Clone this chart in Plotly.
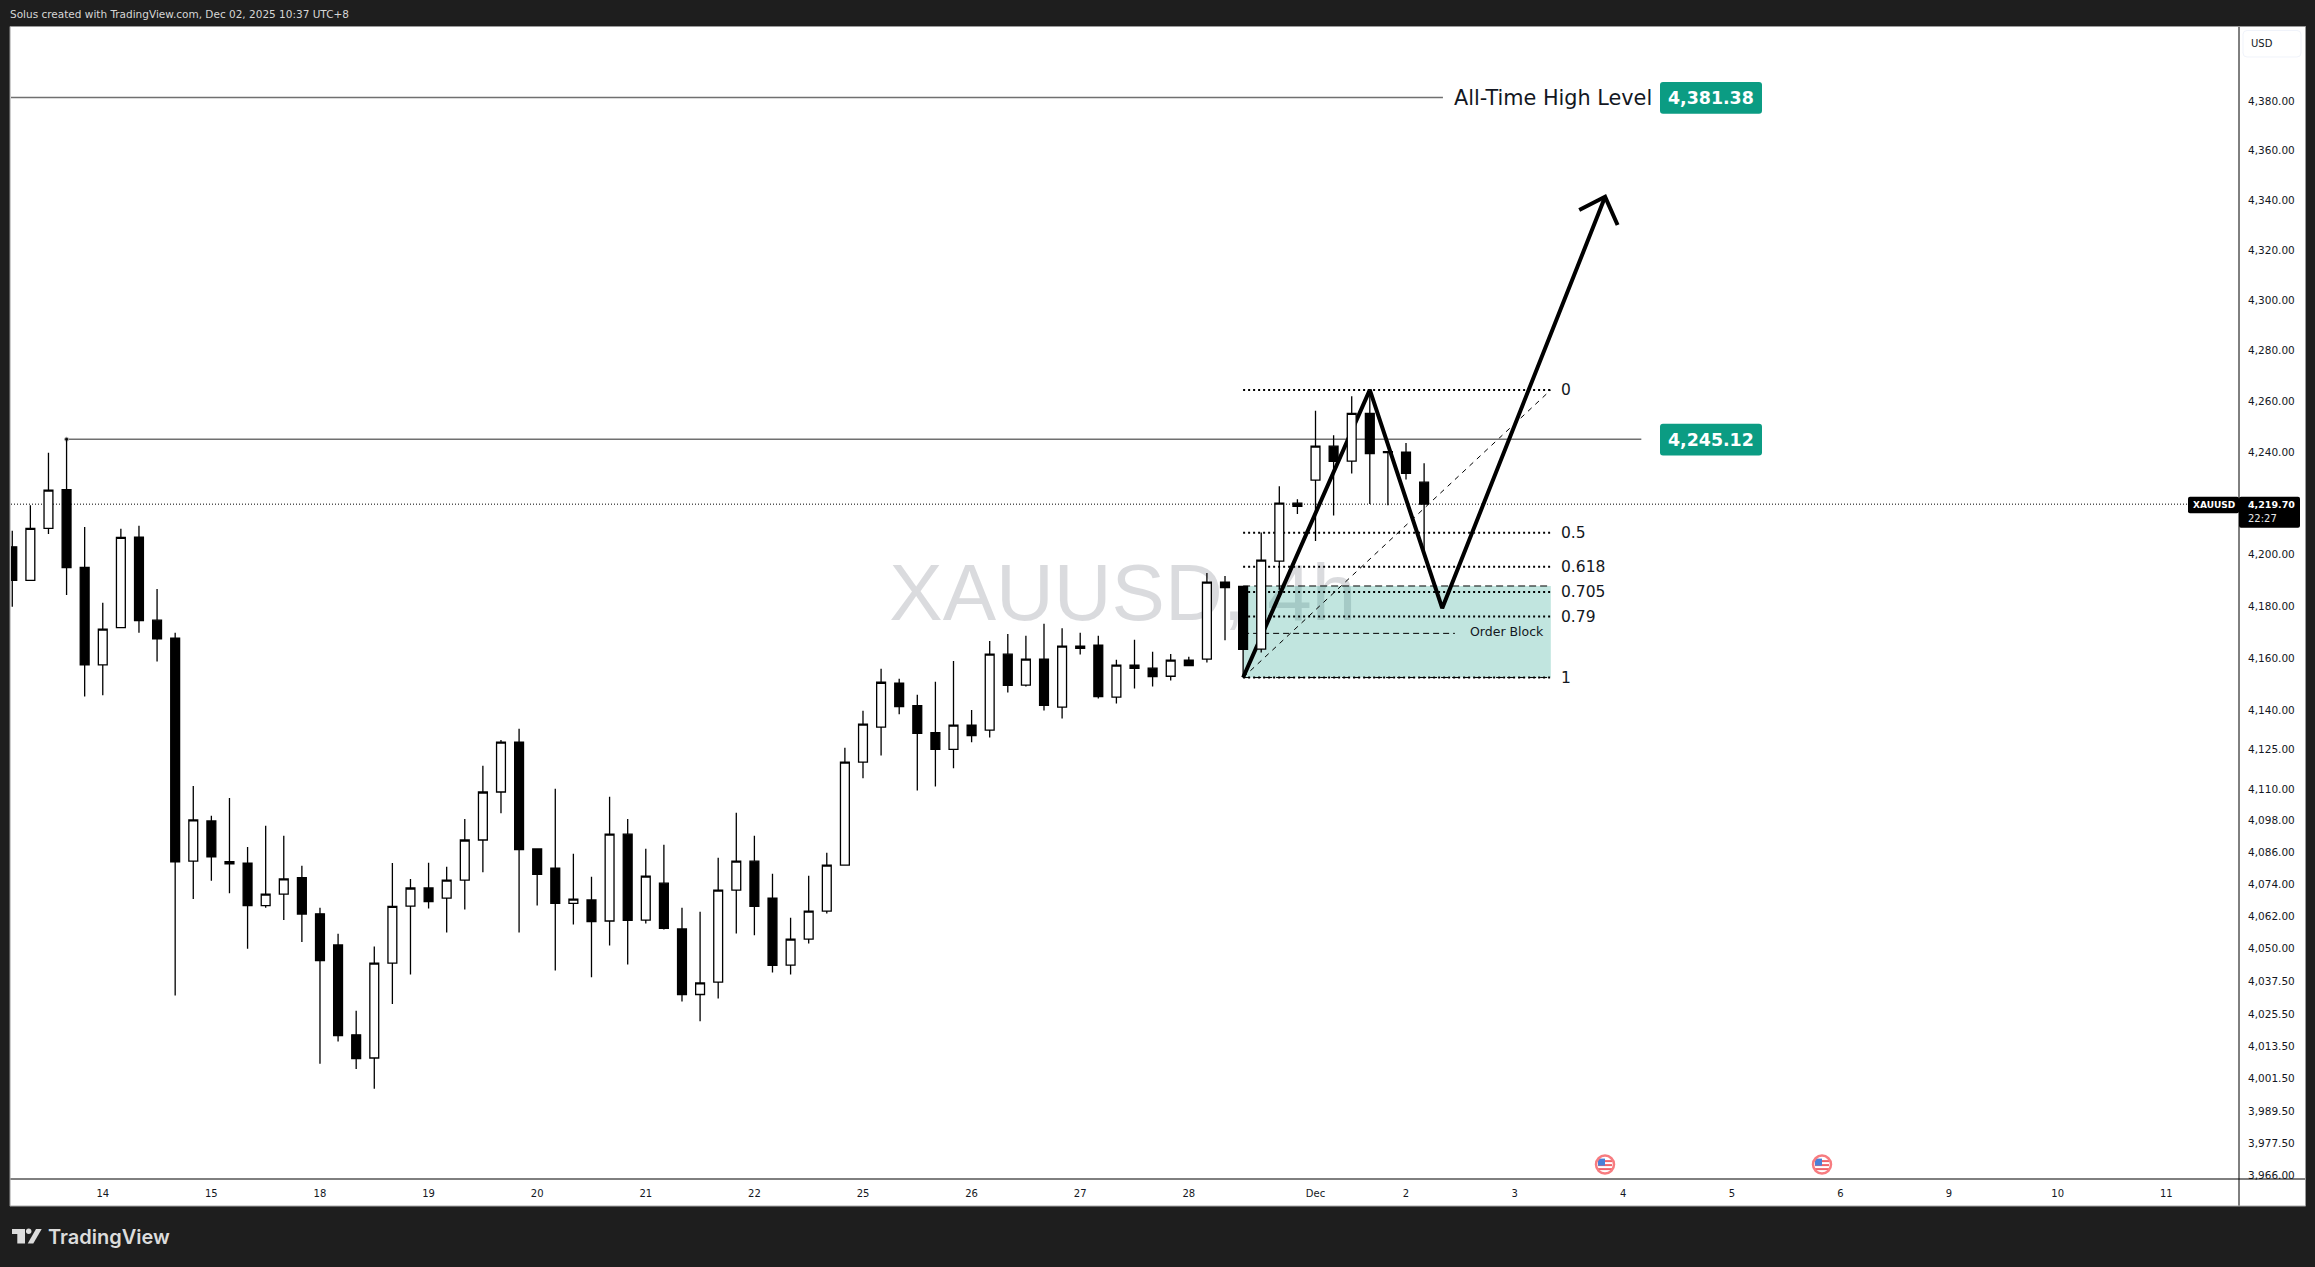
import math
import plotly.graph_objects as go

# ---------- data ----------
bar_index = list(range(79))
open_ = [4203.1,4190.1,4210.3,4225.4,4195.1,4157.5,4171.8,4206.9,4174.7,4167.8,4082.7,4097.9,4082.5,4082.0,4066.0,4070.3,4076.5,4062.9,4051.2,4017.7,
         4009.1,4044.4,4065.8,4072.6,4068.8,4075.6,4090.7,4108.9,4127.9,4087.3,4080.1,4066.8,4068.1,4060.2,4092.9,4060.5,4074.4,4057.2,4032.7,4037.3,
         4071.8,4082.7,4068.8,4043.7,4053.4,4063.9,4081.2,4120.3,4133.6,4150.5,4141.8,4131.5,4125.1,4134.4,4132.5,4161.6,4149.7,4159.7,4141.3,4164.7,
         4165.1,4145.1,4157.4,4156.2,4153.1,4159.3,4159.7,4189.4,4187.7,4163.5,4197.5,4220.1,4229.1,4242.4,4236.5,4255.3,4240.2,4240.0,4228.3]
high = [4209.3,4219.3,4239.8,4245.12,4210.8,4181.4,4210.1,4211.3,4186.7,4169.8,4111.2,4099.9,4106.6,4088.1,4096.1,4092.3,4081.0,4065.2,4055.4,4026.6,
        4050.6,4082.0,4076.0,4082.1,4080.6,4098.7,4118.9,4128.7,4133.0,4087.3,4110.1,4085.5,4076.8,4107.1,4098.7,4087.4,4088.9,4065.2,4063.7,4084.0,
        4101.0,4092.3,4078.0,4061.4,4077.2,4085.9,4125.7,4139.9,4156.0,4152.1,4146.0,4151.0,4159.0,4140.2,4166.7,4169.4,4168.7,4173.3,4171.6,4169.8,
        4168.7,4159.4,4167.1,4162.5,4161.7,4160.6,4192.9,4191.8,4188.0,4208.7,4226.7,4221.6,4256.3,4246.7,4262.0,4264.8,4240.2,4243.6,4235.7]
low = [4179.9,4190.1,4208.1,4184.4,4145.3,4145.8,4171.8,4169.8,4158.8,4032.3,4068.5,4075.3,4070.6,4049.8,4065.2,4060.6,4052.3,4007.0,4015.2,4005.0,
       3997.7,4029.2,4040.2,4064.9,4055.9,4064.5,4078.5,4100.8,4055.9,4066.0,4041.7,4058.9,4039.1,4051.0,4043.9,4059.3,4057.0,4030.1,4022.7,4031.2,
       4055.5,4054.8,4040.9,4040.2,4051.8,4063.0,4081.2,4114.1,4122.8,4138.5,4109.5,4111.0,4117.9,4127.8,4129.7,4146.9,4149.2,4140.0,4136.9,4161.5,
       4144.6,4142.7,4148.4,4149.2,4151.5,4157.2,4158.4,4166.9,4152.6,4162.2,4186.4,4215.9,4205.4,4215.3,4231.7,4219.8,4219.3,4229.3,4201.9]
close = [4190.1,4210.3,4225.2,4195.0,4157.5,4171.2,4206.8,4174.5,4167.5,4082.5,4098.3,4084.3,4081.7,4066.0,4070.3,4076.0,4062.8,4045.4,4017.4,4008.9,
         4044.4,4065.7,4072.6,4067.5,4075.6,4090.7,4108.9,4127.9,4087.1,4077.7,4066.8,4068.4,4060.0,4092.9,4060.4,4077.1,4057.4,4032.7,4037.0,4071.8,
         4082.7,4065.7,4043.6,4053.4,4063.9,4081.2,4120.3,4134.8,4150.8,4141.5,4131.2,4125.1,4134.4,4130.4,4161.6,4149.6,4159.7,4141.9,4164.7,4163.8,
         4145.3,4157.4,4156.1,4153.0,4159.3,4157.2,4189.4,4187.3,4163.4,4197.9,4220.1,4218.8,4242.4,4236.4,4255.3,4239.5,4239.9,4231.7,4219.7]

price_ticks = [4380,4360,4340,4320,4300,4280,4260,4240,4200,4180,4160,4140,4125,4110,4098,4086,4074,4062,4050,4037.5,4025.5,4013.5,4001.5,3989.5,3977.5,3966]
time_tick_pos = [5,11,17,23,29,35,41,47,53,59,65,72,77,83,89,95,101,107,113,119]
time_tick_txt = ["14","15","18","19","20","21","22","25","26","27","28","Dec","2","3","4","5","6","9","10","11"]

ath_price = 4381.38
resistance_price = 4245.12
last_price = 4219.70
fib_high = 4264.5
fib_low = 4152.6
fib_levels = [0, 0.5, 0.618, 0.705, 0.79, 1]
fib_labels = ["0", "0.5", "0.618", "0.705", "0.79", "1"]
fib_x = [68, 85]
zone_top = 4187.9
block_mid = 4169.6
zig_x = [68, 75, 79, 88]
zig_y = [4152.6, 4264.5, 4179.3, 4341.3]
head_x = [86.57, 88, 88.69]
head_y = [4336.0, 4341.3, 4330.0]

# ---------- geometry of the page ----------
W, H = 2315, 1267
PL, PR, PT, PB = 11, 2239, 27, 1179.4
DARK = "#1e1e1e"
TXT = "#131722"
FONT = "DejaVu Sans"
xrange_ = [-0.07, 123.02]
yrange_ = [math.log10(3964.5), math.log10(4410.0)]

def fx(px): return (px - PL) / (PR - PL)
def fy(py): return (PB - py) / (PB - PT)

def round_box(x0, y0, x1, y1, r, fill, line=None):
    X0, X1 = fx(x0), fx(x1)
    Y0, Y1 = fy(y0), fy(y1)
    rx, ry = r / (PR - PL), r / (PB - PT)
    path = (f"M{X0+rx},{Y0} L{X1-rx},{Y0} Q{X1},{Y0} {X1},{Y0-ry} L{X1},{Y1+ry} Q{X1},{Y1} {X1-rx},{Y1} "
            f"L{X0+rx},{Y1} Q{X0},{Y1} {X0},{Y1+ry} L{X0},{Y0-ry} Q{X0},{Y0} {X0+rx},{Y0} Z")
    return dict(type="path", path=path, xref="paper", yref="paper", fillcolor=fill,
                line=dict(color=line or fill, width=1 if line else 0), layer="above")

def ptext(px, py, text, size, color=TXT, anchor="left", family=FONT, weight=None):
    f = dict(family=family, size=size, color=color)
    if weight: f["weight"] = weight
    return dict(x=fx(px), y=fy(py), xref="paper", yref="paper", text=text, showarrow=False,
                xanchor=anchor, yanchor="middle", font=f)

def fib_price(level): return fib_high - level * (fib_high - fib_low)

fig = go.Figure()

# watermark + drawings sit on the lower subplot, candles on the overlaid one
fig.add_trace(go.Scatter(x=[61.35], y=[4182.5], mode="text", text=["XAUUSD, 4h"], textposition="middle center",
                         textfont=dict(family="Liberation Sans", size=80, color="rgba(120,123,134,0.27)")))
fig.add_trace(go.Scatter(x=[fib_x[0], fib_x[1], fib_x[1], fib_x[0], fib_x[0]],
                         y=[zone_top, zone_top, fib_low, fib_low, zone_top], mode="none", fill="toself",
                         fillcolor="rgba(8,153,129,0.25)"))
for lv in fib_levels:
    fig.add_trace(go.Scatter(x=fib_x, y=[fib_price(lv)] * 2, mode="lines",
                             line=dict(color="#000000", width=2, dash="2px,3px")))
for yy, dash in [(zone_top, "7px,4px"), (fib_low, "7px,4px")]:
    fig.add_trace(go.Scatter(x=fib_x, y=[yy, yy], mode="lines", line=dict(color="#000000", width=1, dash=dash)))
fig.add_trace(go.Scatter(x=[68, 79.7], y=[block_mid, block_mid], mode="lines",
                         line=dict(color="#000000", width=1, dash="6px,4px")))
fig.add_trace(go.Scatter(x=fib_x, y=[fib_low, fib_high], mode="lines",
                         line=dict(color="#000000", width=1, dash="5px,5px")))
fig.add_trace(go.Scatter(x=[-0.07, 79.04], y=[ath_price] * 2, mode="lines", line=dict(color="#707070", width=1.5)))
fig.add_trace(go.Scatter(x=[3, 90], y=[resistance_price] * 2, mode="lines", line=dict(color="#707070", width=1.5)))
fig.add_trace(go.Scatter(x=[3], y=[resistance_price], mode="markers",
                         marker=dict(color="#111111", size=4, line=dict(color="#bbbbbb", width=1))))
fig.add_trace(go.Scatter(x=[-0.07, 123.02], y=[last_price] * 2, mode="lines",
                         line=dict(color="#000000", width=1, dash="1px,2px")))
fig.add_trace(go.Scatter(x=zig_x, y=zig_y, mode="lines", line=dict(color="#000000", width=4)))
fig.add_trace(go.Scatter(x=head_x, y=head_y, mode="lines", line=dict(color="#000000", width=4)))

fig.add_trace(go.Candlestick(x=bar_index, open=open_, high=high, low=low, close=close, xaxis="x2", yaxis="y2",
                             increasing=dict(line=dict(color="#000000", width=1.3), fillcolor="#ffffff"),
                             decreasing=dict(line=dict(color="#000000", width=1.3), fillcolor="#000000"),
                             whiskerwidth=0))

shapes = [
    dict(type="rect", xref="paper", yref="paper", x0=fx(10), x1=fx(2305.5), y0=fy(26.5), y1=fy(1206.5),
         fillcolor="#ffffff", line=dict(color="#9a9a9a", width=1), layer="below"),
    dict(type="line", xref="paper", yref="paper", x0=fx(2239), x1=fx(2239), y0=fy(27), y1=fy(1206),
         line=dict(color="#000000", width=1), layer="above"),
    dict(type="line", xref="paper", yref="paper", x0=fx(10.5), x1=fx(2305), y0=fy(1179.4), y1=fy(1179.4),
         line=dict(color="#000000", width=1), layer="above"),
    round_box(1660, 82, 1762, 113.7, 3, "#0b9c83"),
    round_box(1660, 424, 1762, 455.7, 3, "#0b9c83"),
    round_box(2188, 497, 2239, 513.5, 2, "#000000"),
    round_box(2239, 497, 2300, 528, 2, "#000000"),
    round_box(2243, 30.5, 2301, 57, 4, "#ffffff", "#f0f3fa"),
]

# TradingView logo
logo = "#dcdcdc"
shapes.append(dict(type="path", xref="paper", yref="paper", fillcolor=logo, line=dict(width=0), layer="above",
                   path=f"M{fx(12)},{fy(1229.3)} L{fx(25)},{fy(1229.3)} L{fx(25)},{fy(1244)} L{fx(17.3)},{fy(1244)} "
                        f"L{fx(17.3)},{fy(1234.3)} L{fx(12)},{fy(1234.3)} Z"))
shapes.append(dict(type="path", xref="paper", yref="paper", fillcolor=logo, line=dict(width=0), layer="above",
                   path=f"M{fx(36)},{fy(1229.3)} L{fx(41.7)},{fy(1229.3)} L{fx(33.3)},{fy(1244)} L{fx(27.7)},{fy(1244)} Z"))
shapes.append(dict(type="circle", xref="paper", yref="paper", fillcolor=logo, line=dict(width=0), layer="above",
                   x0=fx(26), x1=fx(31.4), y0=fy(1229), y1=fy(1234.4)))

# event flags
for cx in (1605, 1822):
    cy = 1165
    for dy0, dy1 in [(-4.5, -2.5), (-0.5, 1.5), (3.5, 5.5)]:
        shapes.append(dict(type="rect", xref="paper", yref="paper", fillcolor="#f0636a", line=dict(width=0),
                           layer="above", x0=fx(cx - 7), x1=fx(cx + 7), y0=fy(cy + dy0), y1=fy(cy + dy1)))
    shapes.append(dict(type="rect", xref="paper", yref="paper", fillcolor="#4a80d8", line=dict(width=0),
                       layer="above", x0=fx(cx - 7), x1=fx(cx), y0=fy(cy - 6), y1=fy(cy + 1)))
    shapes.append(dict(type="circle", xref="paper", yref="paper", fillcolor="rgba(0,0,0,0)",
                       line=dict(color="#f77c80", width=2.5), layer="above",
                       x0=fx(cx - 9), x1=fx(cx + 9), y0=fy(cy - 9), y1=fy(cy + 9)))

ann = [
    ptext(8, 13.5, "Solus created with TradingView.com, Dec 02, 2025 10:37 UTC+8", 10.5, "#d6d6d6"),
    ptext(46, 1237, "TradingView", 20, "#dcdcdc", family="Inter", weight=600),
    ptext(1553, 98, "All-Time High Level", 20.8, "#131722", "center"),
    ptext(1711, 98, "4,381.38", 17.4, "#ffffff", "center", weight=700),
    ptext(1711, 440, "4,245.12", 17.4, "#ffffff", "center", weight=700),
    ptext(2213.5, 505.5, "XAUUSD", 9, "#ffffff", "center", weight=700),
    ptext(2246, 505, "4,219.70", 9.5, "#ffffff", weight=700),
    ptext(2246, 519, "22:27", 10, "#e8e8e8"),
    ptext(2249, 44, "USD", 10, TXT),
    ptext(1507, 631.5, "Order Block", 12.5, "#131722", "center"),
]
for lv, lab in zip(fib_levels, fib_labels):
    yy = PT + (yrange_[1] - math.log10(fib_price(lv))) / (yrange_[1] - yrange_[0]) * (PB - PT)
    ann.append(ptext(1558.5, yy, lab, 15.5, "#131722"))

fig.update_layout(
    width=W, height=H, autosize=False, showlegend=False,
    margin=dict(l=PL, r=W - PR, t=PT, b=H - PB, pad=0),
    paper_bgcolor=DARK, plot_bgcolor="#ffffff",
    shapes=shapes, annotations=ann,
    xaxis=dict(range=xrange_, tickmode="array", tickvals=time_tick_pos, ticktext=time_tick_txt,
               showgrid=False, zeroline=False, showline=False, ticks="", ticklabelstandoff=7,
               tickfont=dict(family=FONT, size=10, color=TXT), fixedrange=True),
    yaxis=dict(type="log", range=yrange_, side="right", tickmode="array", tickvals=price_ticks,
               ticktext=[f"{t:,.2f}" for t in price_ticks], showgrid=False, zeroline=False, showline=False,
               ticks="", ticklabelstandoff=8, tickfont=dict(family=FONT, size=10.5, color=TXT), fixedrange=True),
    xaxis2=dict(range=xrange_, overlaying="x", visible=False, rangeslider=dict(visible=False), fixedrange=True),
    yaxis2=dict(type="log", range=yrange_, overlaying="y", side="right", visible=False, fixedrange=True),
)

fig.write_html("out.html", config={"displayModeBar": False},
               post_script="document.body.style.margin='0';document.body.style.overflow='hidden';")
